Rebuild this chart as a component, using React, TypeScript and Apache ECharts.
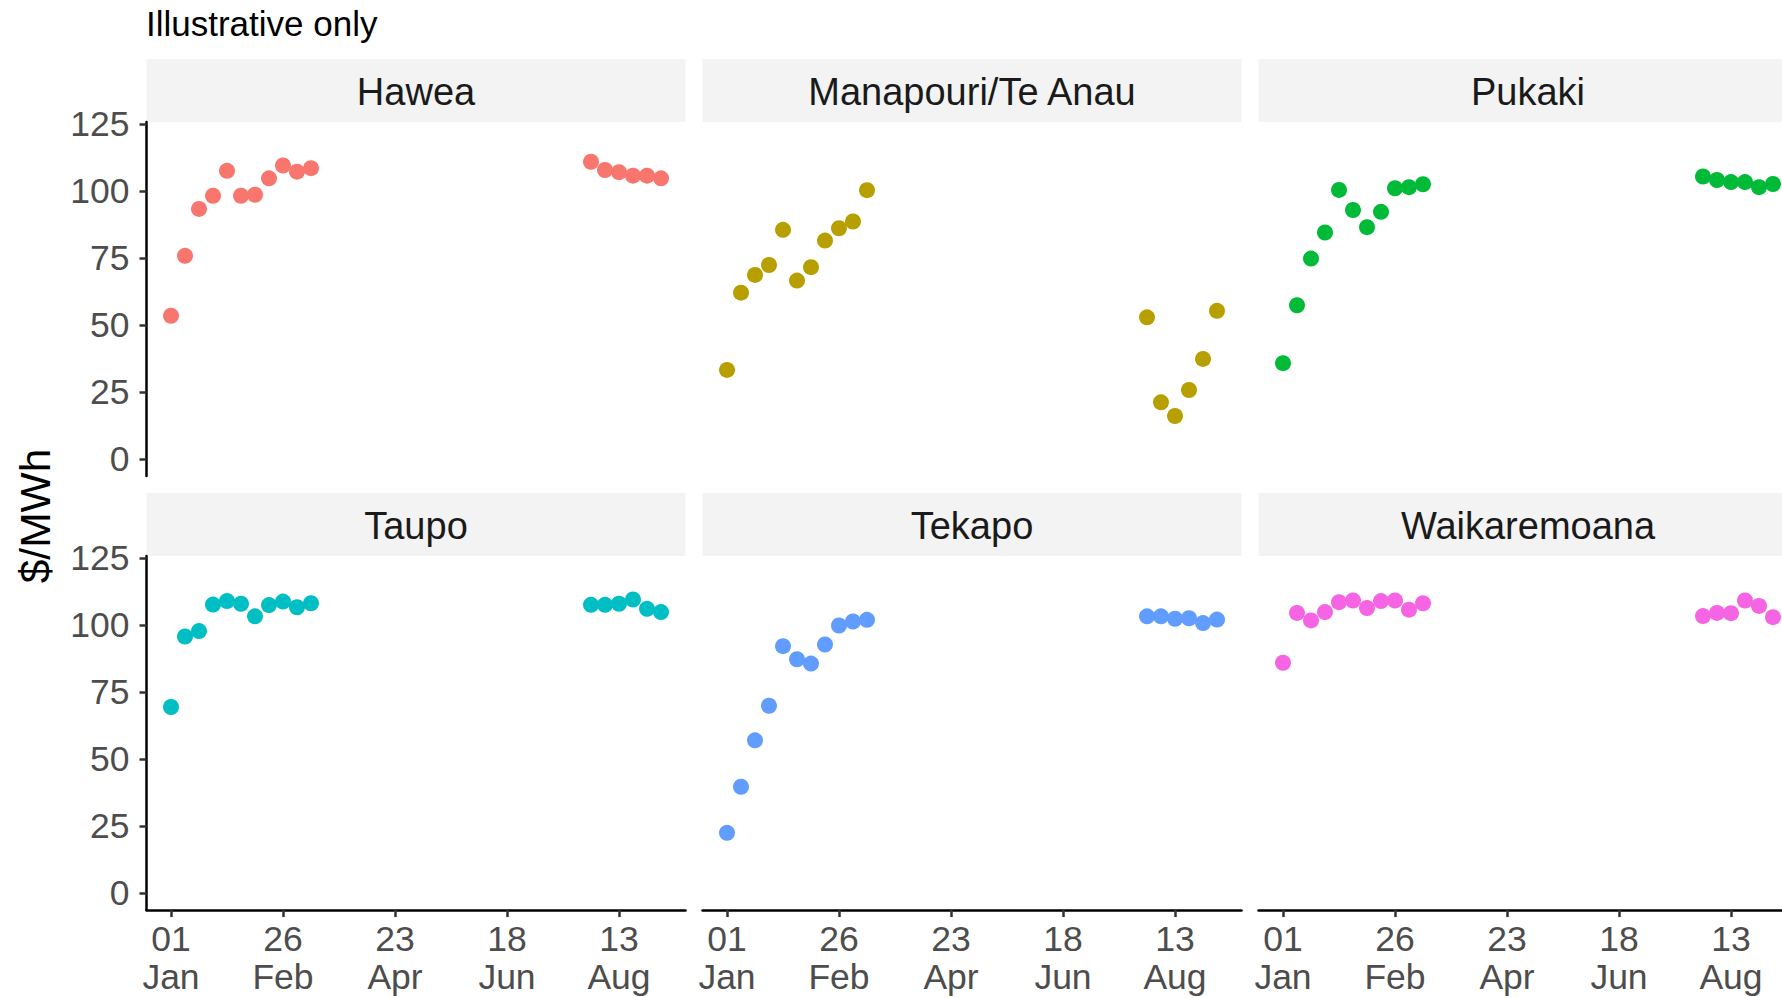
import React, { useEffect, useRef } from "react";
import * as echarts from "echarts";

// ---- data ----
const LAKES = ["Hawea", "Manapouri/Te Anau", "Pukaki", "Taupo", "Tekapo", "Waikaremoana"];
const COLORS = ["#F8766D", "#B79F00", "#00BA38", "#00BFC4", "#619CFF", "#F564E3"];
// days since 01 Jan (weekly observations)
const DAYS = [0, 7, 14, 21, 28, 35, 42, 49, 56, 63, 70, 210, 217, 224, 231, 238, 245];
const HAWEA = [53.5, 75.8, 93.3, 98.2, 107.5, 98.2, 98.6, 104.7, 109.5, 107.2, 108.5, 110.9, 107.8, 107.0, 105.7, 105.7, 104.7];
const MANAPOURI = [33.3, 62.1, 68.7, 72.4, 85.5, 66.6, 71.6, 81.5, 86.1, 88.6, 100.3, 52.9, 21.2, 16.1, 25.8, 37.4, 55.3];
const PUKAKI = [35.8, 57.4, 74.8, 84.5, 100.4, 92.9, 86.5, 92.2, 101.0, 101.4, 102.5, 105.4, 104.1, 103.3, 103.3, 101.4, 102.6];
const TAUPO = [69.4, 95.7, 97.7, 107.6, 108.9, 107.9, 103.2, 107.4, 108.7, 106.6, 108.1, 107.5, 107.5, 107.9, 109.5, 106.0, 104.8];
const TEKAPO = [22.5, 39.7, 57.0, 69.9, 92.1, 87.2, 85.6, 92.7, 99.8, 101.3, 101.9, 103.2, 103.2, 102.3, 102.5, 100.7, 102.0];
const WAIKAREMOANA = [85.9, 104.5, 101.7, 104.8, 108.5, 109.1, 106.3, 108.9, 109.1, 105.7, 108.1, 103.3, 104.5, 104.4, 109.1, 107.1, 102.9];
const SERIES_VALUES = [HAWEA, MANAPOURI, PUKAKI, TAUPO, TEKAPO, WAIKAREMOANA];
const X_TICK_DAYS = [0, 56, 112, 168, 224];
const X_TICK_LABELS = ["01\nJan", "26\nFeb", "23\nApr", "18\nJun", "13\nAug"];
const Y_TICKS = [0, 25, 50, 75, 100, 125];
const TITLE = "Illustrative only";
const Y_TITLE = "$/MWh";

// ---- layout ----
const COL_LEFT = [146.5, 702.5, 1258.5];
const PANEL_W = 539;
const ROW_TOP = [122, 556];
const PANEL_H = 354;
const STRIP_H = 63;
const CANVAS_W = 1820; // original figure is wider than the visible crop
const FONT = "'Liberation Sans', Arial, sans-serif";

export default function App() {
  const ref = useRef<HTMLDivElement>(null);
  useEffect(() => {
    if (!ref.current) return;
    const chart = echarts.init(ref.current, null, { renderer: "svg" });
    const grids: any[] = [];
    const xAxes: any[] = [];
    const yAxes: any[] = [];
    const series: any[] = [];
    const graphics: any[] = [];
    LAKES.forEach((name, i) => {
      const col = i % 3;
      const row = Math.floor(i / 3);
      const left = COL_LEFT[col];
      const top = ROW_TOP[row];
      grids.push({ left, top, width: PANEL_W, height: PANEL_H, containLabel: false });
      const showX = row === 1;
      const showY = col === 0;
      xAxes.push({
        gridIndex: i,
        type: "value",
        min: -12.25,
        max: 257.25,
        axisLine: { show: showX, onZero: false, lineStyle: { color: "#000", width: 2.5 } },
        axisTick: { show: showX, customValues: X_TICK_DAYS, length: 7, lineStyle: { color: "#333", width: 2.5 } },
        axisLabel: {
          show: showX,
          customValues: X_TICK_DAYS,
          formatter: (v: number) => X_TICK_LABELS[X_TICK_DAYS.indexOf(v)] ?? "",
          fontSize: 35.5,
          lineHeight: 38,
          color: "#4D4D4D",
          margin: 10,
          fontFamily: FONT,
        },
        splitLine: { show: false },
      });
      yAxes.push({
        gridIndex: i,
        type: "value",
        min: -6.25,
        max: 125.7,
        axisLine: { show: showY, onZero: false, lineStyle: { color: "#000", width: 2.5 } },
        axisTick: { show: showY, customValues: Y_TICKS, length: 7, lineStyle: { color: "#333", width: 2.5 } },
        axisLabel: {
          show: showY,
          customValues: Y_TICKS,
          fontSize: 35.5,
          color: "#4D4D4D",
          margin: 17,
          fontFamily: FONT,
        },
        splitLine: { show: false },
      });
      series.push({
        name,
        type: "scatter",
        xAxisIndex: i,
        yAxisIndex: i,
        data: DAYS.map((d, k) => [d, SERIES_VALUES[i][k]]),
        symbol: "circle",
        symbolSize: 16,
        clip: false,
        itemStyle: { color: COLORS[i], opacity: 1 },
      });
      graphics.push({
        type: "rect",
        shape: { x: left, y: top - STRIP_H, width: PANEL_W, height: STRIP_H },
        style: { fill: "#F3F3F3" },
        silent: true,
      });
      graphics.push({
        type: "text",
        x: left + PANEL_W / 2,
        y: top - STRIP_H / 2 + 1,
        style: {
          text: name,
          fontSize: 38,
          fontFamily: FONT,
          fill: "#1A1A1A",
          align: "center",
          verticalAlign: "middle",
        },
        silent: true,
      });
    });
    graphics.push({
      type: "text",
      x: 146,
      y: 23,
      style: { text: TITLE, fontSize: 35, fontFamily: FONT, fill: "#000", align: "left", verticalAlign: "middle" },
    });
    graphics.push({
      type: "text",
      x: 35,
      y: 516,
      rotation: Math.PI / 2,
      style: { text: Y_TITLE, fontSize: 42.5, fontFamily: FONT, fill: "#000", align: "center", verticalAlign: "middle" },
    });
    chart.setOption({
      animation: false,
      backgroundColor: "#fff",
      textStyle: { fontFamily: FONT },
      grid: grids,
      xAxis: xAxes,
      yAxis: yAxes,
      series,
      graphic: graphics,
    });
    return () => chart.dispose();
  }, []);
  return (
    <div style={{ position: "fixed", left: 0, top: 0, width: 1782, height: 998, overflow: "hidden", background: "#fff" }}>
      <div ref={ref} style={{ width: CANVAS_W, height: 998 }} />
    </div>
  );
}
